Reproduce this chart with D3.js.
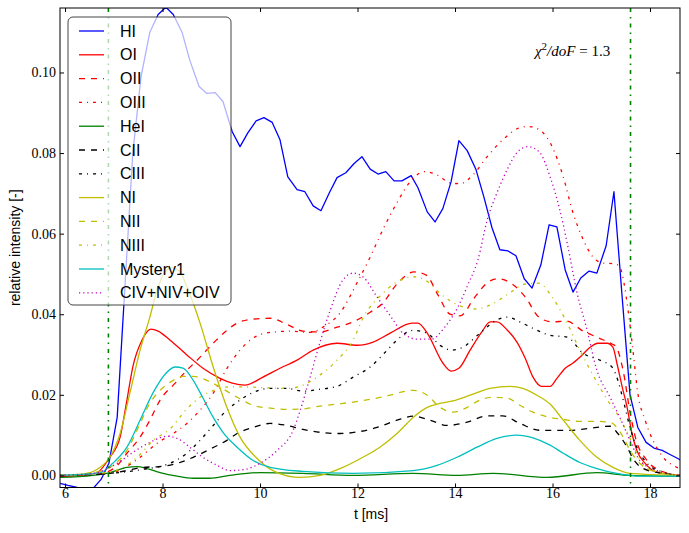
<!DOCTYPE html>
<html><head><meta charset="utf-8">
<script src="https://cdnjs.cloudflare.com/ajax/libs/d3/7.8.5/d3.min.js"></script>
<style>body{margin:0;background:#fff}svg{display:block}</style>
</head><body>
<svg id="chart" width="689" height="533"></svg>
<script>
// ---- data (t in ms, relative intensity) ----
const HI = [[5.9,-0.002],[6.06,-0.0025],[6.25,-0.003],[6.41,-0.0033],[6.57,-0.0033],[6.74,-0.001],[6.90,0.003],[7.07,0.0144],[7.23,0.047],[7.39,0.080],[7.56,0.099],[7.74,0.110],[7.91,0.1144],[8.07,0.1162],[8.22,0.1144],[8.40,0.110],[8.56,0.103],[8.75,0.0965],[8.91,0.0948],[9.08,0.095],[9.24,0.0928],[9.43,0.0853],[9.59,0.0816],[9.75,0.085],[9.92,0.088],[10.08,0.0888],[10.25,0.0876],[10.41,0.0833],[10.57,0.0741],[10.76,0.0709],[10.92,0.0704],[11.09,0.0669],[11.25,0.0657],[11.42,0.0701],[11.58,0.0739],[11.76,0.0751],[11.93,0.0774],[12.09,0.0791],[12.26,0.076],[12.42,0.0748],[12.58,0.0754],[12.75,0.0731],[12.91,0.0731],[13.10,0.0744],[13.24,0.0714],[13.43,0.0654],[13.59,0.0629],[13.75,0.0662],[13.92,0.0729],[14.08,0.0831],[14.25,0.0806],[14.43,0.0759],[14.59,0.0692],[14.76,0.0614],[14.92,0.056],[15.09,0.0557],[15.25,0.0545],[15.42,0.0488],[15.58,0.0465],[15.76,0.0522],[15.93,0.0622],[16.09,0.0617],[16.26,0.051],[16.42,0.0455],[16.58,0.049],[16.75,0.0507],[16.91,0.0502],[17.10,0.057],[17.26,0.0704],[17.43,0.044],[17.59,0.020],[17.75,0.0119],[17.92,0.0082],[18.08,0.0068],[18.25,0.0062],[18.41,0.0052],[18.57,0.0042],[18.63,0.0038]];
const OI = [[5.9,-0.0003],[6.62,0.0005],[6.92,0.0045],[7.13,0.0095],[7.27,0.0187],[7.39,0.0269],[7.58,0.0336],[7.76,0.0363],[7.91,0.0358],[8.15,0.0336],[8.50,0.0299],[8.83,0.0266],[9.18,0.0241],[9.43,0.0229],[9.69,0.0224],[10.06,0.0244],[10.41,0.0266],[10.76,0.0286],[11.09,0.0311],[11.58,0.0328],[11.99,0.0323],[12.32,0.0331],[12.67,0.0353],[13.12,0.0378],[13.24,0.0378],[13.43,0.0353],[13.75,0.0279],[13.92,0.0259],[14.08,0.0266],[14.31,0.0311],[14.55,0.0356],[14.72,0.0381],[14.86,0.0381],[15.07,0.0361],[15.27,0.0331],[15.44,0.0291],[15.60,0.0244],[15.78,0.0221],[15.95,0.0221],[16.09,0.0241],[16.26,0.0266],[16.42,0.0279],[16.61,0.0299],[16.77,0.0318],[16.93,0.0328],[17.12,0.0328],[17.24,0.0318],[17.32,0.0279],[17.43,0.0219],[17.53,0.0169],[17.63,0.0104],[17.73,0.0062],[17.90,0.003],[18.14,0.0008],[18.63,0]];
const OII = [[5.9,0],[6.72,0.0005],[7.03,0.002],[7.27,0.0055],[7.54,0.0095],[7.74,0.0137],[7.95,0.0187],[8.26,0.0229],[8.50,0.0261],[8.71,0.0286],[9.04,0.0328],[9.28,0.0356],[9.53,0.0378],[9.86,0.0388],[10.21,0.039],[10.55,0.0375],[10.88,0.0358],[11.23,0.0356],[11.58,0.0368],[11.91,0.0381],[12.26,0.0405],[12.52,0.0428],[12.81,0.0475],[13.16,0.0505],[13.41,0.0497],[13.65,0.0448],[13.90,0.040],[14.10,0.0396],[14.41,0.0443],[14.68,0.048],[14.88,0.0488],[15.17,0.0475],[15.44,0.0443],[15.72,0.0393],[15.99,0.0381],[16.28,0.0383],[16.63,0.0358],[16.95,0.0341],[17.22,0.0326],[17.30,0.032],[17.45,0.0259],[17.59,0.0157],[17.71,0.009],[17.92,0.004],[18.21,0.0012],[18.63,0]];
const OIII = [[5.9,0],[6.92,0.0005],[7.23,0.002],[7.54,0.0045],[7.89,0.008],[8.22,0.0104],[8.50,0.0129],[8.77,0.0162],[9.04,0.0204],[9.32,0.0265],[9.59,0.0311],[9.86,0.0341],[10.21,0.0355],[10.62,0.0358],[11.03,0.0355],[11.29,0.0368],[11.64,0.0403],[11.99,0.0478],[12.26,0.0542],[12.52,0.061],[12.81,0.0677],[13.08,0.0729],[13.38,0.0754],[13.63,0.0746],[13.90,0.0726],[14.10,0.0724],[14.37,0.0746],[14.66,0.0791],[14.98,0.0833],[15.33,0.0863],[15.50,0.0866],[15.64,0.0863],[15.95,0.0826],[16.22,0.0741],[16.42,0.0652],[16.63,0.0585],[16.83,0.0542],[17.04,0.0527],[17.28,0.0525],[17.38,0.0517],[17.55,0.041],[17.65,0.031],[17.75,0.0204],[17.90,0.0137],[18.06,0.0087],[18.27,0.0045],[18.55,0.002],[18.63,0.0015]];
const HeI = [[5.9,-0.0005],[6.57,0],[6.92,0.0007],[7.27,0.002],[7.48,0.0022],[7.68,0.0017],[7.95,0.0007],[8.30,-0.0002],[8.63,-0.0007],[8.97,-0.0007],[9.38,0],[10.0,0.0007],[10.88,0.0005],[11.91,0],[13.14,0.0005],[14.04,0],[14.78,0.0005],[15.89,-0.0005],[16.91,0.0007],[17.59,0],[18.63,-0.0002]];
const CII = [[5.9,0],[6.51,0.0002],[6.92,0.0005],[7.27,0.0012],[7.60,0.002],[7.95,0.0022],[8.30,0.003],[8.63,0.0045],[8.97,0.0065],[9.32,0.0087],[9.53,0.0104],[9.86,0.0119],[10.21,0.0129],[10.55,0.0124],[10.88,0.0114],[11.23,0.0107],[11.64,0.0104],[12.05,0.0109],[12.40,0.0119],[12.81,0.0137],[13.14,0.0147],[13.49,0.0137],[13.84,0.0124],[14.25,0.0132],[14.66,0.0148],[14.98,0.0148],[15.33,0.0129],[15.74,0.0112],[16.36,0.0112],[16.77,0.0117],[17.18,0.0122],[17.34,0.0104],[17.53,0.007],[17.65,0.0042],[17.86,0.0017],[18.27,0.0005],[18.63,0]];
const CIII = [[5.9,0],[6.92,0.0005],[7.60,0.0015],[8.15,0.003],[8.50,0.0055],[8.77,0.0087],[9.04,0.0124],[9.32,0.0162],[9.53,0.0182],[9.86,0.0206],[10.21,0.0216],[10.55,0.0216],[10.88,0.0209],[11.23,0.0214],[11.58,0.0221],[11.91,0.0244],[12.26,0.0269],[12.61,0.0311],[12.81,0.0336],[13.14,0.036],[13.43,0.0353],[13.69,0.0323],[13.94,0.0311],[14.16,0.0318],[14.51,0.0353],[14.86,0.0386],[15.07,0.0393],[15.33,0.0381],[15.60,0.0365],[15.95,0.0348],[16.30,0.0343],[16.63,0.0303],[16.97,0.0286],[17.22,0.0269],[17.34,0.0236],[17.45,0.0187],[17.59,0.0119],[17.73,0.007],[17.94,0.003],[18.27,0.0008],[18.63,0]];
const NI = [[5.9,0],[6.45,0.0005],[6.72,0.002],[6.92,0.0045],[7.13,0.0104],[7.33,0.0204],[7.54,0.0311],[7.74,0.0393],[7.89,0.046],[8.05,0.0505],[8.19,0.0515],[8.36,0.0505],[8.50,0.0468],[8.77,0.0378],[9.04,0.0269],[9.32,0.0169],[9.59,0.0095],[9.94,0.0042],[10.35,0.0007],[10.82,-0.0005],[11.23,0],[11.70,0.002],[12.11,0.0045],[12.46,0.007],[12.81,0.0104],[13.14,0.0144],[13.43,0.0169],[13.69,0.0179],[13.96,0.0185],[14.31,0.0199],[14.72,0.0216],[15.13,0.0221],[15.39,0.0216],[15.68,0.0199],[15.95,0.0177],[16.22,0.0137],[16.56,0.0087],[16.91,0.0045],[17.24,0.002],[17.59,0.0005],[18.63,0]];
const NII = [[5.9,0],[6.72,0.001],[6.92,0.002],[7.27,0.0062],[7.54,0.0129],[7.74,0.0179],[7.95,0.0211],[8.22,0.0236],[8.42,0.0246],[8.63,0.0246],[8.91,0.0236],[9.18,0.0219],[9.53,0.0194],[9.86,0.0174],[10.21,0.0167],[10.55,0.0164],[10.88,0.0165],[11.23,0.0172],[11.58,0.0177],[11.91,0.0182],[12.26,0.0189],[12.67,0.0199],[12.81,0.0204],[13.14,0.0211],[13.43,0.0199],[13.69,0.0169],[13.96,0.0157],[14.25,0.0169],[14.51,0.0187],[14.78,0.0194],[15.07,0.0192],[15.33,0.0174],[15.60,0.0157],[15.95,0.0144],[16.22,0.0139],[16.56,0.0134],[16.91,0.0134],[17.18,0.0132],[17.32,0.0119],[17.45,0.0095],[17.59,0.0062],[17.79,0.003],[18.14,0.0008],[18.63,0]];
const NIII = [[5.9,0],[6.92,0.0008],[7.48,0.0045],[7.81,0.0087],[8.15,0.0115],[8.50,0.0165],[8.77,0.0194],[9.12,0.0214],[9.38,0.022],[9.86,0.0219],[10.21,0.0217],[10.55,0.0216],[10.88,0.0224],[11.23,0.0249],[11.58,0.0286],[11.91,0.0336],[12.13,0.0395],[12.46,0.0445],[12.81,0.048],[13.16,0.0493],[13.45,0.048],[13.71,0.045],[14.06,0.0423],[14.41,0.0413],[14.76,0.0425],[15.09,0.045],[15.44,0.0475],[15.72,0.0477],[15.99,0.0443],[16.28,0.0383],[16.54,0.0316],[16.83,0.0249],[17.10,0.0192],[17.38,0.0142],[17.59,0.0092],[17.79,0.004],[18.06,0.0012],[18.63,0]];
const Mystery1 = [[5.9,0],[6.72,0.0007],[6.98,0.003],[7.27,0.007],[7.54,0.0137],[7.81,0.0206],[8.09,0.0256],[8.26,0.0269],[8.42,0.0266],[8.63,0.0236],[8.83,0.0192],[9.04,0.0144],[9.24,0.0107],[9.53,0.007],[9.86,0.0037],[10.21,0.002],[10.88,0.001],[11.91,0.0005],[13.14,0.0012],[13.63,0.0025],[14.04,0.0045],[14.45,0.007],[14.86,0.0092],[15.27,0.01],[15.60,0.0093],[15.95,0.0075],[16.22,0.0055],[16.56,0.0032],[16.91,0.0017],[17.32,0.0005],[17.79,-0.0002],[18.63,-0.0002]];
const CNOIV = [[5.9,0],[6.57,0.0005],[7.07,0.003],[7.39,0.0057],[7.74,0.0082],[8.09,0.0097],[8.30,0.0092],[8.56,0.007],[8.83,0.0045],[9.12,0.0025],[9.38,0.0012],[9.69,0.0015],[10.0,0.003],[10.35,0.0062],[10.68,0.0112],[10.82,0.016],[11.03,0.0245],[11.23,0.033],[11.44,0.041],[11.70,0.0485],[11.91,0.0502],[12.11,0.0493],[12.40,0.0443],[12.69,0.0393],[12.95,0.0351],[13.24,0.0338],[13.51,0.0338],[13.79,0.0368],[14.06,0.0418],[14.27,0.0475],[14.47,0.0535],[14.66,0.0634],[14.86,0.0701],[15.07,0.0759],[15.27,0.0801],[15.50,0.0816],[15.74,0.0801],[15.95,0.0741],[16.15,0.0659],[16.30,0.0577],[16.50,0.0455],[16.71,0.036],[16.91,0.0261],[17.18,0.0194],[17.38,0.0144],[17.59,0.0087],[17.79,0.0037],[18.14,0.0012],[18.63,0]];

const seriesNames = ["HI","OI","OII","OIII","HeI","CII","CIII","NI","NII","NIII","Mystery1","CIV+NIV+OIV"];
const seriesData = [HI, OI, OII, OIII, HeI, CII, CIII, NI, NII, NIII, Mystery1, CNOIV];
const markerLines = [6.89, 17.6];
const xTickValues = [6, 8, 10, 12, 14, 16, 18];
const yTickValues = [0.00, 0.02, 0.04, 0.06, 0.08, 0.10];
const annotation = {chi: "χ", exp: "2", rest: "/doF", value: " = 1.3"};

// ---- styles ----
const colors = ["#0000ff","#ff0000","#ff0000","#ff0000","#008000","#000000","#000000","#bfbf00","#bfbf00","#bfbf00","#00bfbf","#bf00bf"];
const DASHED = "6,6", DASHDOT = "3,5,1,5", DOTTED = "1.2,3";
const dashes = [null,null,DASHED,DASHDOT,null,DASHED,DASHDOT,null,DASHED,DASHDOT,null,DOTTED];

const svg = d3.select("#chart");
const L = 60, R = 680, T = 8, B = 487.5;
const x = d3.scaleLinear().domain([5.897, 18.615]).range([L, R]);
const y = d3.scaleLinear().domain([-0.003, 0.116]).range([B, T]);

svg.append("rect").attr("width", 689).attr("height", 533).attr("fill", "#fff");
svg.append("defs").append("clipPath").attr("id", "clip")
  .append("rect").attr("x", L).attr("y", T).attr("width", R - L).attr("height", B - T);

const plot = svg.append("g").attr("clip-path", "url(#clip)");
seriesData.forEach((d, i) => {
  const line = d3.line().x(p => x(p[0])).y(p => y(p[1]))
    .curve(i === 0 ? d3.curveLinear : d3.curveMonotoneX);
  plot.append("path").datum(d).attr("d", line)
    .attr("fill", "none").attr("stroke", colors[i]).attr("stroke-width", 1.3)
    .attr("stroke-dasharray", dashes[i]).attr("stroke-linejoin", "round");
});
markerLines.forEach(t => {
  plot.append("line").attr("x1", x(t)).attr("x2", x(t)).attr("y1", T).attr("y2", B)
    .attr("stroke", "#008000").attr("stroke-width", 1.6).attr("stroke-dasharray", "4,5,1.5,5");
});

// ---- axes ----
const serif = "'Liberation Serif', 'DejaVu Serif', serif";
const sans = "'Liberation Sans', Arial, sans-serif";
function styleAxis(g) {
  g.select(".domain").remove();
  g.selectAll(".tick line").attr("stroke", "#000").attr("stroke-width", 1);
  g.selectAll(".tick text").attr("font-family", serif).attr("font-size", 14).attr("fill", "#000");
}
svg.append("g").attr("transform", `translate(0,${B})`)
  .call(d3.axisBottom(x).tickValues(xTickValues).tickSize(-4).tickPadding(1).tickFormat(d3.format("d")))
  .call(styleAxis);
svg.append("g").attr("transform", `translate(0,${T})`)
  .call(d3.axisTop(x).tickValues(xTickValues).tickSize(-4).tickFormat(""))
  .call(styleAxis);
svg.append("g").attr("transform", `translate(${L},0)`)
  .call(d3.axisLeft(y).tickValues(yTickValues).tickSize(-4).tickPadding(4).tickFormat(d3.format(".2f")))
  .call(styleAxis);
svg.append("g").attr("transform", `translate(${R},0)`)
  .call(d3.axisRight(y).tickValues(yTickValues).tickSize(-4).tickFormat(""))
  .call(styleAxis);
svg.append("rect").attr("x", L).attr("y", T).attr("width", R - L).attr("height", B - T)
  .attr("fill", "none").attr("stroke", "#000").attr("stroke-width", 1);

svg.append("text").attr("x", 371).attr("y", 519).attr("text-anchor", "middle")
  .attr("font-family", sans).attr("font-size", 14).text("t [ms]");
svg.append("text").attr("transform", `translate(20,${(T + B) / 2}) rotate(-90)`)
  .attr("text-anchor", "middle").attr("font-family", sans).attr("font-size", 14)
  .text("relative intensity [-]");

// annotation
const ann = svg.append("text").attr("x", 535).attr("y", 56)
  .attr("font-family", serif).attr("font-size", 15).attr("fill", "#000");
ann.append("tspan").attr("font-style", "italic").text(annotation.chi);
ann.append("tspan").attr("dy", -6).attr("font-size", 11).text(annotation.exp);
ann.append("tspan").attr("dy", 6).attr("font-style", "italic").text(annotation.rest);
ann.append("tspan").text(annotation.value);

// ---- legend ----
const lg = svg.append("g");
lg.append("rect").attr("x", 68).attr("y", 17).attr("width", 163).attr("height", 288).attr("rx", 5)
  .attr("fill", "#fff").attr("fill-opacity", 0.7).attr("stroke", "#444").attr("stroke-width", 1);
seriesNames.forEach((name, i) => {
  const yy = 31 + i * 23.8;
  lg.append("line").attr("x1", 79).attr("x2", 104).attr("y1", yy).attr("y2", yy)
    .attr("stroke", colors[i]).attr("stroke-width", 1.3).attr("stroke-dasharray", dashes[i]);
  lg.append("text").attr("x", 120).attr("y", yy).attr("dy", "0.35em")
    .attr("font-family", sans).attr("font-size", 16).attr("fill", "#000").text(name);
});
</script>
</body></html>
